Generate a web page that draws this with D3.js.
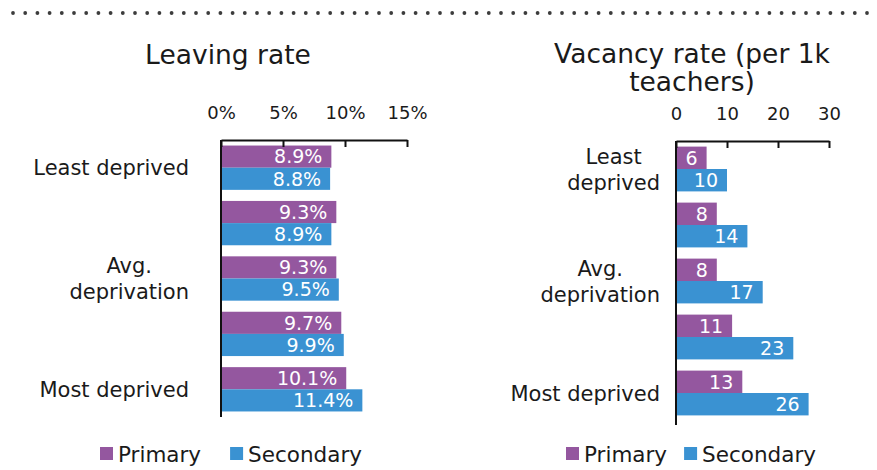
<!DOCTYPE html>
<html>
<head>
<meta charset="utf-8">
<script src="https://cdn.jsdelivr.net/npm/d3@7"></script>
<style>
  body { margin: 0; background: #fff; }
  svg { display: block; font-family: "DejaVu Sans", sans-serif; }
  .title { font-size: 26.5px; fill: #1a1a1a; }
  .cat { font-size: 21px; fill: #1a1a1a; }
  .tick text { font-size: 18px; fill: #1a1a1a; font-family: "DejaVu Sans", sans-serif; }
  .val { font-size: 19px; fill: #fff; }
  .legend text { font-size: 21.5px; fill: #1a1a1a; }
</style>
</head>
<body>
<svg id="chart" width="877" height="470"></svg>
<script>
// data
const groups = ['least', 'q2', 'avg', 'q4', 'most'];
const series = ['Primary', 'Secondary'];
const colors = ['#94579f', '#3a92d2'];

const leavingPrimary   = [8.9, 9.3, 9.3, 9.7, 10.1];
const leavingSecondary = [8.8, 8.9, 9.5, 9.9, 11.4];
const leavingTicks = [0, 5, 10, 15];

const vacancyPrimary   = [6, 8, 8, 11, 13];
const vacancySecondary = [10, 14, 17, 23, 26];
const vacancyTicks = [0, 10, 20, 30];

// category labels, one entry per line
const leavingLabels = [['Least deprived'], [], ['Avg.', 'deprivation'], [], ['Most deprived']];
const vacancyLabels = [['Least', 'deprived'], [], ['Avg.', 'deprivation'], [], ['Most deprived']];

const svg = d3.select('#chart');

// dotted rule along the top
svg.append('g')
  .selectAll('circle')
  .data(d3.range(13, 877, 12.2))
  .join('circle')
    .attr('cx', d => d)
    .attr('cy', 13)
    .attr('r', 1.9)
    .attr('fill', '#3c3c3c');

function panel(opt) {
  const g = svg.append('g');
  const x = d3.scaleLinear().domain(opt.domain).range([opt.x0, opt.x1]);
  const y = d3.scaleBand().domain(groups).range([opt.top, opt.bottom])
      .paddingInner(0.2).paddingOuter(0.1);
  const sub = d3.scaleBand().domain(series).range([0, y.bandwidth()]);

  // title
  g.append('text')
      .attr('class', 'title')
      .attr('text-anchor', 'middle')
      .selectAll('tspan')
      .data(opt.title)
      .join('tspan')
        .attr('x', opt.titleX)
        .attr('y', (d, i) => opt.titleY + i * 28)
        .text(d => d);

  // bars
  const rows = groups.map((k, i) => ({ key: k, vals: [opt.primary[i], opt.secondary[i]] }));
  const row = g.selectAll('.row')
    .data(rows)
    .join('g')
      .attr('class', 'row')
      .attr('transform', d => 'translate(0,' + y(d.key) + ')');

  const bar = row.selectAll('g')
    .data(d => d.vals.map((v, j) => ({ s: series[j], v: v, j: j })))
    .join('g');

  bar.append('rect')
      .attr('x', x(0))
      .attr('y', d => sub(d.s))
      .attr('width', d => x(d.v) - x(0))
      .attr('height', sub.bandwidth())
      .attr('fill', d => colors[d.j]);

  bar.append('text')
      .attr('class', 'val')
      .attr('text-anchor', 'end')
      .attr('x', d => x(d.v) - 9)
      .attr('y', d => sub(d.s) + sub.bandwidth() / 2)
      .attr('dy', '0.36em')
      .text(d => opt.fmt(d.v));

  // top axis, ticks pointing down
  const axis = g.append('g')
      .attr('transform', 'translate(0,' + opt.top + ')')
      .call(d3.axisTop(x).tickValues(opt.ticks).tickFormat(opt.tickFmt)
        .tickSizeInner(-7).tickSizeOuter(0).tickPadding(21));
  axis.select('.domain').attr('stroke', '#111').attr('stroke-width', 2);
  axis.selectAll('.tick line').attr('stroke', '#111').attr('stroke-width', 2);

  // vertical axis line
  g.append('line')
      .attr('x1', x(0)).attr('x2', x(0))
      .attr('y1', opt.top).attr('y2', opt.axisBottom)
      .attr('stroke', '#111')
      .attr('stroke-width', 2);

  // category labels, multi-line blocks centred on their widest line
  groups.forEach((k, i) => {
    const lines = opt.labels[i];
    if (!lines.length) return;
    const t = g.append('text')
        .attr('class', 'cat')
        .attr('text-anchor', 'middle');
    const cy = y(k) + y.bandwidth() / 2;
    lines.forEach((ln, j) => {
      t.append('tspan')
          .attr('y', cy + (j - (lines.length - 1) / 2) * 26)
          .attr('dy', '0.36em')
          .text(ln);
    });
    let w = 0;
    t.selectAll('tspan').each(function () { w = Math.max(w, this.getComputedTextLength()); });
    t.selectAll('tspan').attr('x', opt.labelRight - w / 2);
  });

  // legend
  const lg = g.append('g').attr('class', 'legend');
  let lx = opt.legendX;
  series.forEach((s, j) => {
    lg.append('rect')
        .attr('x', lx).attr('y', 447)
        .attr('width', 13).attr('height', 13)
        .attr('fill', colors[j]);
    const tx = lg.append('text')
        .attr('x', lx + 18).attr('y', 454)
        .attr('dy', '0.36em')
        .text(s);
    lx += 18 + tx.node().getComputedTextLength() + opt.legendGap;
  });
}

panel({
  title: ['Leaving rate'], titleX: 228, titleY: 64,
  domain: [0, 15], x0: 221, x1: 407,
  top: 140, bottom: 417, axisBottom: 417,
  primary: leavingPrimary, secondary: leavingSecondary,
  ticks: leavingTicks, tickFmt: d => d + '%',
  fmt: d => d3.format('.1f')(d) + '%',
  labels: leavingLabels, labelRight: 189,
  legendX: 100, legendGap: 29
});

panel({
  title: ['Vacancy rate (per 1k', 'teachers)'], titleX: 692, titleY: 63,
  domain: [0, 30], x0: 676, x1: 829,
  top: 141, bottom: 421, axisBottom: 425,
  primary: vacancyPrimary, secondary: vacancySecondary,
  ticks: vacancyTicks, tickFmt: d => d,
  fmt: d => d,
  labels: vacancyLabels, labelRight: 660,
  legendX: 566, legendGap: 17
});
</script>
</body>
</html>
